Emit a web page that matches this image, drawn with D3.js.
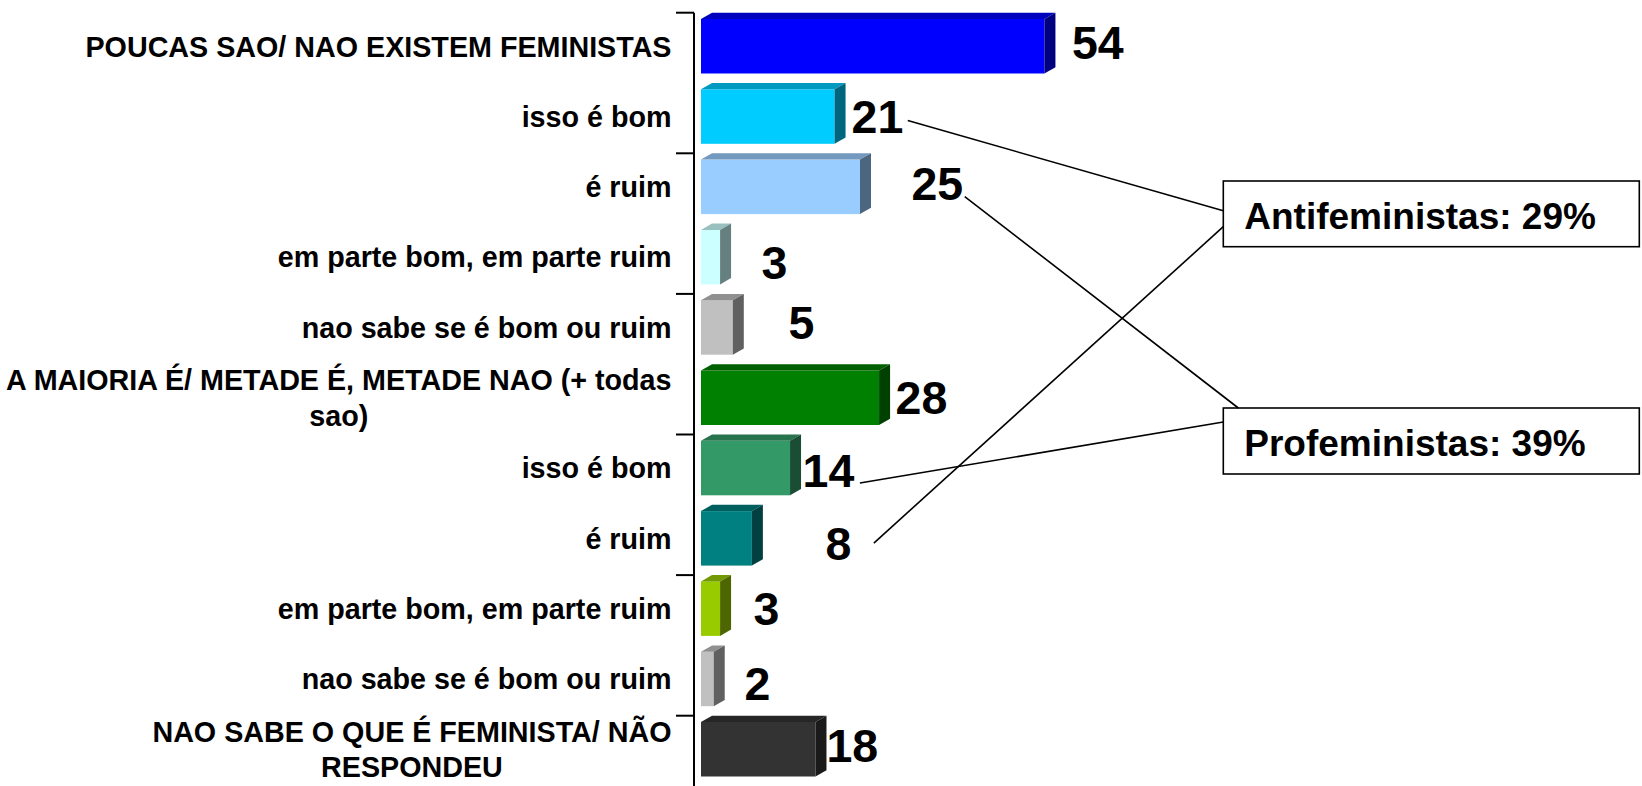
<!DOCTYPE html>
<html>
<head>
<meta charset="utf-8">
<script src="https://cdn.jsdelivr.net/npm/d3@7"></script>
<style>
  html, body { margin: 0; padding: 0; background: #fff; }
  svg { display: block; }
  text { font-family: "Liberation Sans", Arial, sans-serif; font-weight: bold; fill: #000; }
</style>
</head>
<body>
<svg id="chart" width="1642" height="786"></svg>
<script>
// ---------------- data ----------------
const categories = [
  "POUCAS SAO/ NAO EXISTEM FEMINISTAS",
  "isso é bom",
  "é ruim",
  "em parte bom, em parte ruim",
  "nao sabe se é bom ou ruim",
  "A MAIORIA É/ METADE É, METADE NAO (+ todas\nsao)",
  "isso é bom",
  "é ruim",
  "em parte bom, em parte ruim",
  "nao sabe se é bom ou ruim",
  "NAO SABE O QUE É FEMINISTA/ NÃO\nRESPONDEU"
];
const values = [54, 21, 25, 3, 5, 28, 14, 8, 3, 2, 18];
const colors = ["#0000FF", "#00CCFF", "#99CCFF", "#CCFFFF", "#C0C0C0", "#008000",
                "#339966", "#008080", "#99CC00", "#C0C0C0", "#333333"];
const groupLabels = ["Antifeministas: 29%", "Profeministas: 39%"];
const groupMembers = [[1, 7], [2, 6]];

// ---------------- layout ----------------
const W = 1642, H = 786;
const labelDx = [16.5, 6, 40.5, 30.5, 44.7, 5.5, 1.5, 62.6, 22.4, 19.8, 0];
const labelDy = [-3.7, 0, -3.3, 4.9, -5.4, -0.7, 2, 4.7, -0.6, 4.1, -4.2];
const depthX = 11, depthY = 6.3, barH = 54.5;
const catFont = 28.7, valFont = 46.5, boxFont = 37;
const boxes = [
  { x: 1223.3, y: 181, w: 416, h: 65.7 },
  { x: 1223.3, y: 408, w: 416, h: 66 }
];
// connector layout: [group, member, gap after label, dy from label centre, box side, offset along side]
const connectors = [
  [0, 0, 4.5, 4, "left", 29.7],
  [0, 1, 22.5, 0, "left", 45.7],
  [1, 0, 1.5, 13, "top", 15],
  [1, 1, 5.5, 13, "left", 14]
];

const svg = d3.select("#chart");
const idx = d3.range(values.length);

const y = d3.scaleBand().domain(idx).range([12.7, H]).padding(0);
const x = d3.scaleLinear().domain([0, 60]).range([701, 1082.6]);
const axisX = 694;

const shade = (c, k) => { const r = d3.rgb(c); return d3.rgb(r.r * k, r.g * k, r.b * k).formatHex(); };
const barTop = i => y(i) + depthY;
const barMid = i => barTop(i) + barH / 2;

// ---------------- axis ----------------
const axisG = svg.append("g");
axisG.append("line")
  .attr("x1", axisX).attr("x2", axisX)
  .attr("y1", y.range()[0]).attr("y2", y.range()[1])
  .attr("stroke", "#000").attr("stroke-width", 2);
axisG.selectAll("line.tick")
  .data(idx.filter(i => i % 2 === 0))
  .join("line").attr("class", "tick")
  .attr("x1", axisX - 18).attr("x2", axisX)
  .attr("y1", i => y(i)).attr("y2", i => y(i))
  .attr("stroke", "#000").attr("stroke-width", 2);

// ---------------- bars (3D) ----------------
const bars = svg.append("g").selectAll("g").data(idx).join("g");
bars.append("rect")
  .attr("x", x(0)).attr("y", i => barTop(i))
  .attr("width", i => x(values[i]) - x(0)).attr("height", barH)
  .attr("fill", i => colors[i]);
bars.append("polygon")
  .attr("points", i => {
    const x0 = x(0), x1 = x(values[i]), t = barTop(i);
    return [[x0, t], [x0 + depthX, t - depthY], [x1 + depthX, t - depthY], [x1, t]].join(" ");
  })
  .attr("fill", i => shade(colors[i], 0.75));
bars.append("polygon")
  .attr("points", i => {
    const x1 = x(values[i]), t = barTop(i);
    return [[x1, t], [x1 + depthX, t - depthY], [x1 + depthX, t - depthY + barH], [x1, t + barH]].join(" ");
  })
  .attr("fill", i => shade(colors[i], 0.5));

// ---------------- category labels ----------------
const catRight = 671.5;
const lh = catFont * 1.12 + 3;
const catG = svg.append("g");
idx.forEach(i => {
  const lines = categories[i].split("\n");
  const g = catG.append("g");
  const base0 = barMid(i) + 0.358 * catFont - (lines.length - 1) * lh / 2;
  const ts = lines.map((l, k) => g.append("text")
    .attr("font-size", catFont)
    .attr("y", base0 + k * lh)
    .text(l));
  const widths = ts.map(t => t.node().getComputedTextLength());
  const bw = d3.max(widths);
  ts.forEach(t => t.attr("text-anchor", "middle").attr("x", catRight - bw / 2));
});

// ---------------- value labels ----------------
const valNodes = svg.append("g").selectAll("text").data(idx).join("text")
  .attr("font-size", valFont)
  .attr("x", i => x(values[i]) + depthX + labelDx[i])
  .attr("y", i => barMid(i) + labelDy[i] + 0.358 * valFont)
  .text(i => values[i]);

// ---------------- group boxes ----------------
const boxG = svg.append("g");
boxes.forEach((b, k) => {
  boxG.append("rect")
    .attr("x", b.x).attr("y", b.y).attr("width", b.w).attr("height", b.h)
    .attr("fill", "#fff").attr("stroke", "#000").attr("stroke-width", 1.6);
  boxG.append("text")
    .attr("font-size", boxFont)
    .attr("x", b.x + 21).attr("y", b.y + 48)
    .text(groupLabels[k]);
});

// ---------------- connectors ----------------
const nodes = valNodes.nodes();
connectors.forEach(([g, m, gap, dy, side, off]) => {
  const i = groupMembers[g][m];
  const bb = nodes[i].getBBox();
  const sx = bb.x + bb.width + gap;
  const sy = barMid(i) + labelDy[i] + dy;
  const b = boxes[g];
  const ex = side === "left" ? b.x : b.x + off;
  const ey = side === "left" ? b.y + off : b.y;
  svg.append("line")
    .attr("x1", sx).attr("y1", sy).attr("x2", ex).attr("y2", ey)
    .attr("stroke", "#000").attr("stroke-width", 1.6);
});
</script>
</body>
</html>
